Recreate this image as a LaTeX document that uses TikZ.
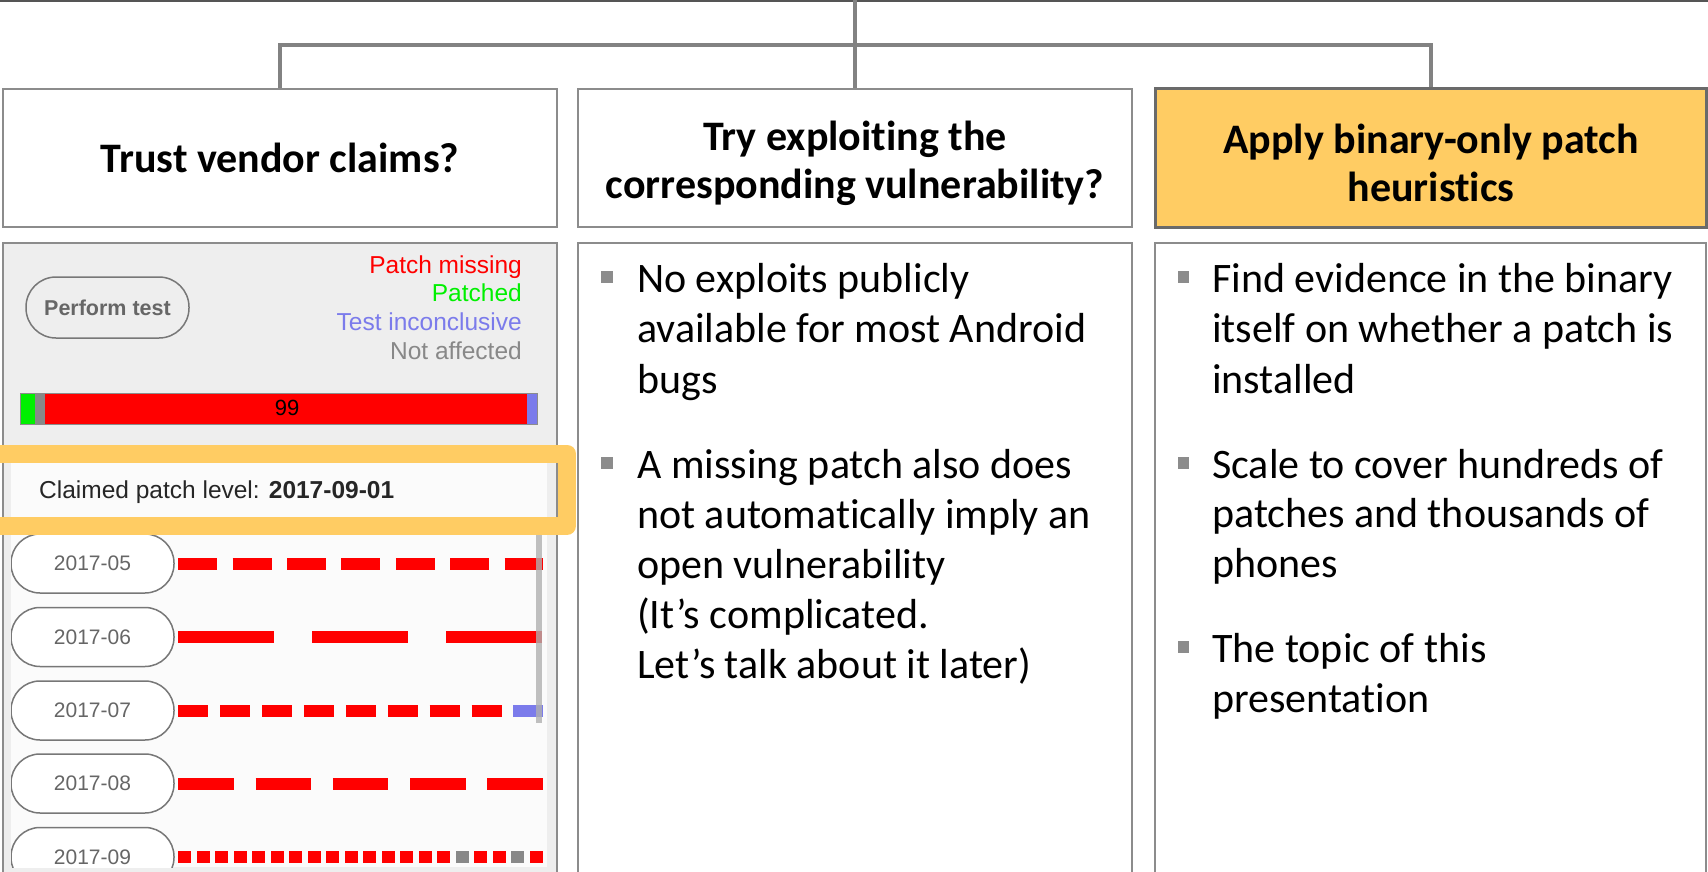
\documentclass[tikz,border=0pt]{standalone}
\usepackage{fontspec}
\setmainfont[Ligatures=NoCommon]{Carlito}
\newfontfamily\uifont{Liberation Sans}
\definecolor{topline}{HTML}{555555}
\definecolor{conngray}{HTML}{828282}
\definecolor{framegray}{HTML}{8C8C8C}
\definecolor{darkframe}{HTML}{6A6A6A}
\definecolor{accent}{HTML}{FFCC63}
\definecolor{panelbg}{HTML}{EEEEEE}
\definecolor{listbg}{HTML}{FBFBFB}
\definecolor{bulletgray}{HTML}{8C8C8C}
\definecolor{pillgray}{HTML}{777777}
\definecolor{pilltext}{HTML}{666666}
\definecolor{missred}{HTML}{FF0000}
\definecolor{okgreen}{HTML}{00F000}
\definecolor{unsure}{HTML}{7B7BEB}
\definecolor{naffect}{HTML}{888888}
\definecolor{scrollgray}{HTML}{B0B0B0}
\begin{document}
\begin{tikzpicture}[x=1pt,y=-1pt,
  hdr/.style={draw=framegray, line width=2.5pt, minimum width=554pt, minimum height=138pt,
    inner sep=0pt},
  hdrtext/.style={inner sep=0pt, align=center, font=\fontsize{42}{48}\selectfont\bfseries},
  conn/.style={draw=conngray, line width=4pt},
  lowframe/.style={draw=framegray, line width=2.5pt},
  body/.style={anchor=base west, inner sep=0pt, font=\fontsize{42}{50}\selectfont},
  bsq/.style={fill=bulletgray, minimum size=11.5pt, inner sep=0pt},
  pill/.style={draw=pillgray, line width=1.5pt, fill=white, rounded corners=29pt,
    minimum width=163pt, minimum height=59pt, inner sep=0pt,
    font=\uifont\fontsize{21}{24}\selectfont, text=pilltext},
  legend/.style={anchor=base east, inner sep=0pt, font=\uifont\fontsize{24.5}{28}\selectfont},
  dashrow/.style={line width=12pt, draw=missred}
]
\useasboundingbox (0,0) rectangle (1708,872);

% top rule, header boxes and tree connectors
\fill[topline] (0,0) rectangle (1708,2);
\node[hdr] (h1) at (280,158) {};
\node[hdr] (h2) at (855,158) {};
\node[hdr, fill=accent, draw=darkframe, line width=3pt, minimum width=551pt] (h3) at (1431,158) {};
\node[hdrtext] (t1) at (h1.center) {Trust vendor claims?};
\node[hdrtext] (t2) at ([yshift=-5pt]h2.center) {Try exploiting the\\corresponding vulnerability?};
\node[hdrtext] (t3) at ([yshift=-5pt]h3.center) {Apply binary-only patch\\heuristics};
\coordinate (root) at (855,0);
\coordinate (bus) at (855,45);
\draw[conn] (root) -- (h2.north);
\draw[conn] (h1.north) |- (bus) -| (h3.north);

% lower columns
\fill[panelbg] (3,243) rectangle (557,872);
\draw[lowframe] (3,872) |- (557,243) -- (557,872);
\draw[lowframe] (578,872) |- (1132,243) -- (1132,872);
\draw[lowframe] (1155,872) |- (1706,243) -- (1706,872);

% app screenshot: header part
\node[pill, fill=panelbg, draw=pillgray, minimum width=163pt, minimum height=61pt, rounded corners=30pt,
  text=pilltext, font=\uifont\fontsize{21.5}{24}\selectfont\bfseries] (perform) at (107.5,307.5) {Perform test};
\node[legend, text=missred] (lg1) at (522,273) {Patch missing};
\node[legend, text=okgreen] (lg2) at (522,301) {Patched};
\node[legend, text=unsure] (lg3) at (522,330) {Test inconclusive};
\node[legend, text=naffect] (lg4) at (522,359) {Not affected};

% summary bar
\fill[okgreen] (20,393) rectangle (35,424);
\fill[naffect] (35,393) rectangle (45,424);
\fill[missred] (45,393) rectangle (527,424);
\fill[unsure] (527,393) rectangle (537,424);
\draw[framegray, line width=1pt] (20,393) rectangle (537,424);
\node[anchor=base, inner sep=0pt, font=\uifont\fontsize{22}{26}\selectfont] (count) at (287,415) {99};

% list area
\fill[listbg] (11,463) rectangle (547,867);
\node[anchor=base west, inner sep=0pt, text=black!85, font=\uifont\fontsize{24.5}{28}\selectfont]
  (claim) at (39,498) {Claimed patch level: \textbf{2017-09-01}};

\begin{scope}
\clip (11,463) rectangle (547,867);
\node[pill] (p05) at (92.5,563.5) {2017-05};
\node[pill] (p06) at (92.5,637) {2017-06};
\node[pill] (p07) at (92.5,710.5) {2017-07};
\node[pill] (p08) at (92.5,783.5) {2017-08};
\node[pill] (p09) at (92.5,857) {2017-09};
\draw[dashrow, dash pattern=on 39 off 15.4] ([xshift=3.5pt]p05.east) -- ++(365,0);
\draw[dashrow, dash pattern=on 96 off 38] ([xshift=3.5pt]p06.east) -- ++(365,0);
\draw[dashrow, dash pattern=on 30 off 11.9] ([xshift=3.5pt]p07.east) -- ++(335,0);
\fill[unsure] (513.2,704.5) rectangle (543.2,716.5);
\draw[dashrow, dash pattern=on 55.5 off 21.8] ([xshift=3.5pt]p08.east) -- ++(365,0);
\foreach \k in {0,...,19}{
  \ifnum\k=15 \def\sqc{naffect}\else\ifnum\k=18 \def\sqc{naffect}\else\def\sqc{missred}\fi\fi
  \fill[\sqc] ({178+18.5*\k},851) rectangle ({191+18.5*\k},863);
}
\fill[scrollgray, opacity=0.8] (536,520) rectangle (542,723);
\end{scope}

% highlight of the claimed level
\draw[accent, line width=18pt, line join=round] (-20,453.5) rectangle (567,526);

% bullets, middle column
\node[bsq] (s1) at (607,277) {};
\foreach \t [count=\i from 0] in {{No exploits publicly},{available for most Android},{bugs}}
  \node[body] (m1l\i) at (637,{292+50.5*\i}) {\t};
\node[bsq] (s2) at (607,463) {};
\foreach \t [count=\i from 0] in {{A missing patch also does},{not automatically imply an},
    {open vulnerability},{(It’s complicated.},{Let’s talk about it later)}}
  \node[body] (m2l\i) at (637,{478+50*\i}) {\t};

% bullets, right column
\node[bsq] (s3) at (1183.5,277) {};
\foreach \t [count=\i from 0] in {{Find evidence in the binary},{itself on whether a patch is},{installed}}
  \node[body] (r1l\i) at (1212,{292+50.5*\i}) {\t};
\node[bsq] (s4) at (1183.5,463) {};
\foreach \t [count=\i from 0] in {{Scale to cover hundreds of},{patches and thousands of},{phones}}
  \node[body] (r2l\i) at (1212,{478+49.5*\i}) {\t};
\node[bsq] (s5) at (1183.5,647) {};
\foreach \t [count=\i from 0] in {{The topic of this},{presentation}}
  \node[body] (r3l\i) at (1212,{662+50*\i}) {\t};
\end{tikzpicture}
\end{document}
